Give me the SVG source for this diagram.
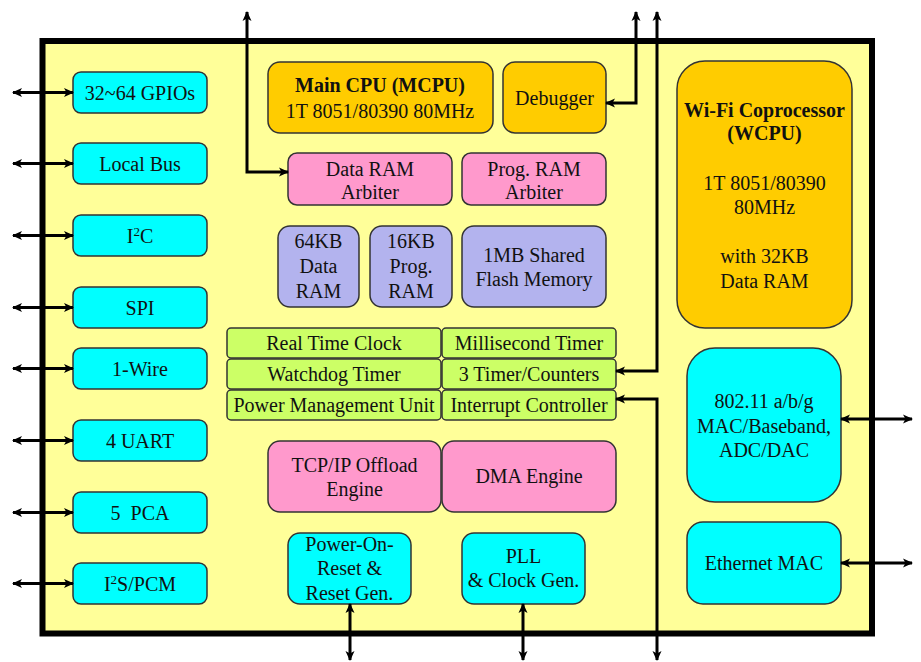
<svg xmlns="http://www.w3.org/2000/svg" width="921" height="662" viewBox="0 0 921 662">
<defs>
<marker id="ah" viewBox="0 0 10 10" refX="9" refY="5" markerWidth="10" markerHeight="10" markerUnits="userSpaceOnUse" orient="auto-start-reverse">
<path d="M0,0.5 L10,5 L0,9.5 L2.5,5 z" fill="#000"/>
</marker>
<style>
text{font-size:20px;fill:#111;text-anchor:middle}
.b{font-weight:bold}
rect{stroke:#333;stroke-width:1.5}
.cy{fill:#00FFFF}
.or{fill:#FFCC00}
.pk{fill:#FF99CC}
.lv{fill:#B3B3EE}
.gr{fill:#CCFF66}
.sup{font-size:13px}
#connectors path{fill:none;stroke:#000;stroke-width:3;marker-start:url(#ah);marker-end:url(#ah)}
</style>
</defs>
<rect id="chip" x="42.5" y="41" width="829.5" height="592.5" fill="#FFFF99" style="stroke:#000;stroke-width:6"/>
<g font-family="Liberation Serif, Tinos, Times New Roman, DejaVu Serif, serif">
<g id="gpio"><rect class="cy" x="73" y="72" width="134" height="41" rx="8"/><text x="140" y="100">32~64 GPIOs</text></g>
<g id="localbus"><rect class="cy" x="73" y="143" width="134" height="41" rx="8"/><text x="140" y="171">Local Bus</text></g>
<g id="i2c"><rect class="cy" x="73" y="215" width="134" height="41" rx="8"/><text x="140" y="243">I<tspan class="sup" dy="-7">2</tspan><tspan dy="7">C</tspan></text></g>
<g id="spi"><rect class="cy" x="73" y="287" width="134" height="41" rx="8"/><text x="140" y="315">SPI</text></g>
<g id="onewire"><rect class="cy" x="73" y="348" width="134" height="41" rx="8"/><text x="140" y="376">1-Wire</text></g>
<g id="uart"><rect class="cy" x="73" y="420" width="134" height="41" rx="8"/><text x="140" y="448">4 UART</text></g>
<g id="pca"><rect class="cy" x="73" y="492" width="134" height="41" rx="8"/><text x="140" y="520" xml:space="preserve">5  PCA</text></g>
<g id="i2s"><rect class="cy" x="73" y="563" width="134" height="41" rx="8"/><text x="140" y="591">I<tspan class="sup" dy="-7">2</tspan><tspan dy="7">S/PCM</tspan></text></g>

<g id="mcpu"><rect class="or" x="268" y="62" width="225" height="71" rx="12"/><text class="b" x="380" y="92">Main CPU (MCPU)</text><text x="380" y="118">1T 8051/80390 80MHz</text></g>
<g id="debugger"><rect class="or" x="503" y="62" width="103" height="71" rx="12"/><text x="554.5" y="105">Debugger</text></g>
<g id="dataarb"><rect class="pk" x="288" y="153" width="164" height="52" rx="9"/><text x="370" y="176">Data RAM</text><text x="370" y="199">Arbiter</text></g>
<g id="progarb"><rect class="pk" x="462" y="153" width="144" height="52" rx="9"/><text x="534" y="176">Prog. RAM</text><text x="534" y="199">Arbiter</text></g>

<g id="dataram"><rect class="lv" x="278" y="226" width="81" height="81" rx="12"/><text x="318.5" y="248">64KB</text><text x="318.5" y="273">Data</text><text x="318.5" y="298">RAM</text></g>
<g id="program"><rect class="lv" x="370" y="226" width="82" height="81" rx="12"/><text x="411" y="248">16KB</text><text x="411" y="273">Prog.</text><text x="411" y="298">RAM</text></g>
<g id="flash"><rect class="lv" x="462" y="226" width="144" height="81" rx="12"/><text x="534" y="262">1MB Shared</text><text x="534" y="286">Flash Memory</text></g>

<g id="rtc"><rect class="gr" x="227" y="328" width="214" height="30" rx="4"/><text x="334" y="350">Real Time Clock</text></g>
<g id="mstimer"><rect class="gr" x="442" y="328" width="174" height="30" rx="4"/><text x="529" y="350">Millisecond Timer</text></g>
<g id="wdt"><rect class="gr" x="227" y="359" width="214" height="30" rx="4"/><text x="334" y="381">Watchdog Timer</text></g>
<g id="timers"><rect class="gr" x="442" y="359" width="174" height="30" rx="4"/><text x="529" y="381">3 Timer/Counters</text></g>
<g id="pmu"><rect class="gr" x="227" y="390" width="214" height="30" rx="4"/><text x="334" y="412">Power Management Unit</text></g>
<g id="intc"><rect class="gr" x="442" y="390" width="174" height="30" rx="4"/><text x="529" y="412">Interrupt Controller</text></g>

<g id="tcpip"><rect class="pk" x="268" y="441" width="173" height="71" rx="12"/><text x="354.5" y="472">TCP/IP Offload</text><text x="354.5" y="496">Engine</text></g>
<g id="dma"><rect class="pk" x="442" y="441" width="174" height="71" rx="12"/><text x="529" y="483">DMA Engine</text></g>

<g id="por"><rect class="cy" x="288" y="533" width="123" height="71" rx="12"/><text x="349.5" y="551">Power-On-</text><text x="349.5" y="575">Reset &amp;</text><text x="349.5" y="600">Reset Gen.</text></g>
<g id="pll"><rect class="cy" x="462" y="533" width="123" height="71" rx="12"/><text x="523.5" y="563">PLL</text><text x="523.5" y="587">&amp; Clock Gen.</text></g>

<g id="wcpu"><rect class="or" x="677" y="61" width="175" height="267" rx="28"/><text class="b" x="764.5" y="117">Wi-Fi Coprocessor</text><text class="b" x="764.5" y="140">(WCPU)</text><text x="764.5" y="190">1T 8051/80390</text><text x="764.5" y="214">80MHz</text><text x="764.5" y="263">with 32KB</text><text x="764.5" y="288">Data RAM</text></g>
<g id="wifi"><rect class="cy" x="687" y="348" width="154" height="154" rx="28"/><text x="764" y="408">802.11 a/b/g</text><text x="764" y="433">MAC/Baseband,</text><text x="764" y="457">ADC/DAC</text></g>
<g id="eth"><rect class="cy" x="687" y="522" width="154" height="82" rx="16"/><text x="764" y="570">Ethernet MAC</text></g>
</g>
<g id="connectors">
<path d="M13,92.5 L73,92.5"/>
<path d="M13,163.5 L73,163.5"/>
<path d="M13,235.5 L73,235.5"/>
<path d="M13,307.5 L73,307.5"/>
<path d="M13,368.5 L73,368.5"/>
<path d="M13,440.5 L73,440.5"/>
<path d="M13,512.5 L73,512.5"/>
<path d="M13,583.5 L73,583.5"/>
<path d="M247,12 L247,172 L288,172"/>
<path d="M636,12 L636,103 L606,103"/>
<path d="M657,12 L657,371 L616,371"/>
<path d="M657,660 L657,399 L616,399"/>
<path d="M350,604 L350,660"/>
<path d="M523,604 L523,660"/>
<path d="M841,419 L912,419"/>
<path d="M841,563 L912,563"/>
</g>
</svg>
